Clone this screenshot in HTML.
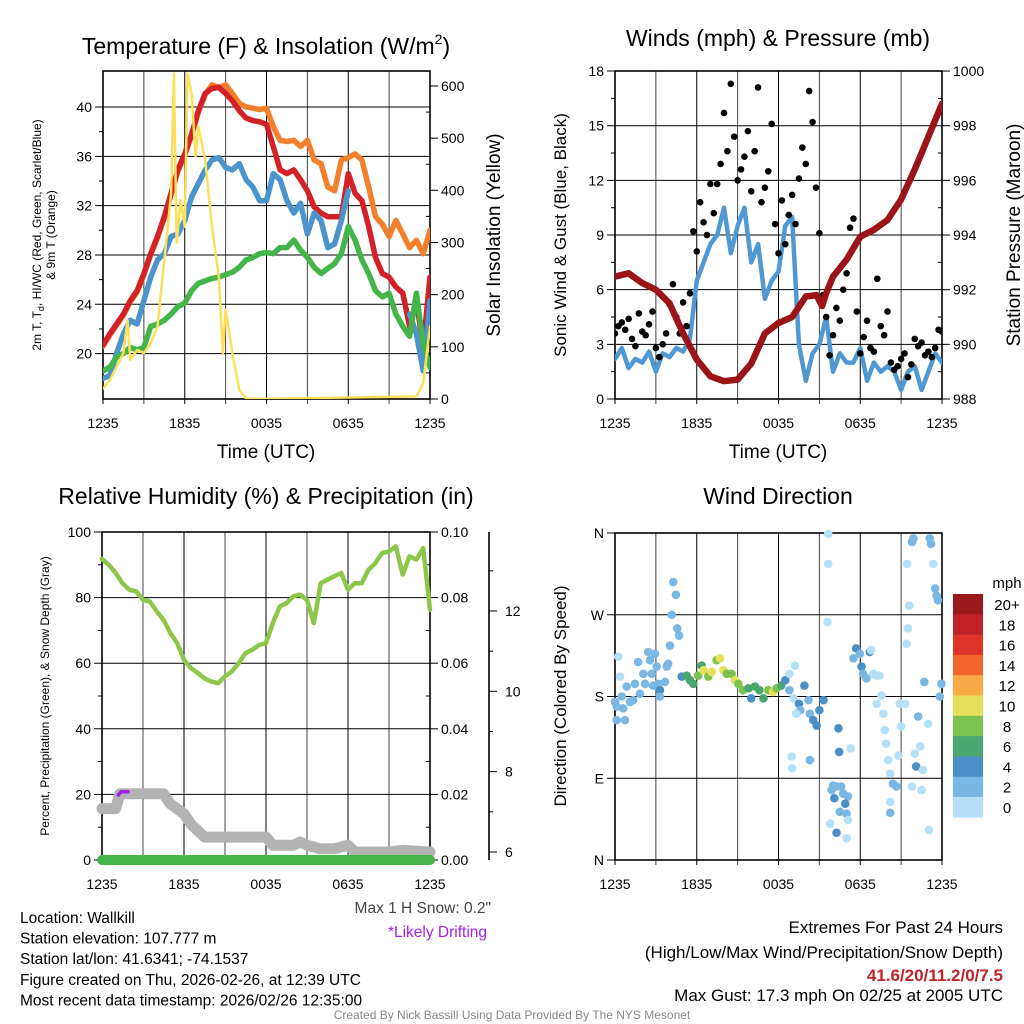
<!DOCTYPE html>
<html><head><meta charset="utf-8"><style>
body{margin:0;background:#fff;}
svg{display:block;font-family:"Liberation Sans",sans-serif;}
</style></head><body>
<svg id="c" width="1024" height="1024" viewBox="0 0 1024 1024" xmlns="http://www.w3.org/2000/svg"></svg>
<script>
// ---------- DATA ----------
const hours = [0,0.5,1,1.5,2,2.5,3,3.5,4,4.5,5,5.5,6,6.5,7,7.5,8,8.5,9,9.5,10,10.5,11,11.5,12,12.5,13,13.5,14,14.5,15,15.5,16,16.5,17,17.5,18,18.5,19,19.5,20,20.5,21,21.5,22,22.5,23,23.5,24];
const xTickLabels = ["1235","1835","0035","0635","1235"];
const xTickHours = [0,6,12,18,24];
const temp2m = [20.7,21.6,22.4,23.2,24.3,25.1,26.5,28.1,29.5,31.1,33.0,34.9,36.2,37.8,39.7,41.1,41.5,41.6,41.1,40.5,39.7,39.1,38.9,38.8,38.6,36.8,34.9,34.6,34.9,34.1,33.2,31.9,31.4,31.1,31.1,31.1,34.6,33.0,32.4,30.3,27.8,26.5,26.2,25.4,24.9,22.2,24.3,20.5,26.2];
const temp9m = [20.6,21.5,22.3,23.1,24.2,25.0,26.4,28.0,29.4,31.0,32.9,34.8,36.1,37.7,39.6,41.0,41.8,41.6,41.8,41.1,40.3,40.0,39.9,39.8,39.9,38.4,37.3,37.2,37.3,36.8,37.3,35.7,35.4,33.5,33.2,35.7,35.9,36.2,35.7,33.5,31.1,30.5,29.5,30.8,29.7,28.6,29.2,28.1,30.0];
const heatWindChill = [18.0,18.2,20.0,21.6,22.7,22.4,24.3,26.2,27.6,28.1,29.5,29.7,30.8,32.7,33.8,34.9,35.7,35.9,35.1,34.9,35.4,34.1,33.5,32.4,32.4,34.6,34.1,32.4,31.4,32.2,29.7,31.4,30.8,28.6,28.9,30.8,33.2,null,null,null,null,null,null,null,null,23.2,21.6,18.6,24.3];
const dewpoint = [18.6,18.9,19.7,20.0,20.5,20.3,20.5,22.2,22.4,22.7,23.2,23.8,24.1,25.1,25.7,25.9,26.1,26.2,26.4,26.6,27.0,27.6,27.8,28.1,28.2,28.1,28.6,28.6,29.2,28.4,27.8,27.0,26.5,26.9,27.3,28.1,30.3,29.2,27.6,26.5,25.1,24.6,24.9,23.2,22.2,21.4,24.9,20.8,18.9];
const solarHours = [0,0.5,1,1.5,1.8,2,2.5,3,3.5,4,4.5,5,5.2,5.4,5.7,6,6.2,6.5,6.8,7,7.5,8,8.5,8.8,9,9.5,10,10.5,11,23,23.5,24];
const solarWm2 = [20,36,62,88,151,75,94,88,107,139,266,394,624,300,381,330,624,586,465,522,458,330,234,88,171,88,17,1,0,5,30,139];
const tempTicks = [20,24,28,32,36,40];
const solarTicks = [0,100,200,300,400,500,600];

const windSpeed = [2.2,2.8,1.7,2.2,2.0,2.6,1.5,2.5,2.3,2.8,2.6,3.3,6.5,7.5,8.5,9.0,10.5,8.0,9.5,10.5,7.5,8.5,5.5,6.5,7.0,9.5,10.0,3.0,1.0,2.5,3.0,4.5,1.5,2.5,2.0,2.0,2.8,1.0,2.0,1.5,1.8,1.5,0.5,1.5,1.8,0.5,1.5,2.5,2.0];
const pressureHours = [0,1,2,3,4,5,6,7,8,9,10,11,12,13,14,14.8,15.2,15.5,16,17,18,19,20,21,22,23,24];
const pressureMb = [992.48,992.6,992.24,992.0,991.5,990.4,989.44,988.83,988.65,988.71,989.3,990.4,990.78,991.0,991.75,991.8,991.4,991.87,992.48,993.1,993.94,994.19,994.55,995.3,996.4,997.6,998.8];
const gustHours = [0,0.25,0.5,0.75,1,1.25,1.5,1.75,2,2.25,2.5,2.75,3,3.25,3.5,3.75,4,4.25,4.5,4.75,5,5.25,5.5,5.75,6,6.25,6.5,6.75,7,7.25,7.5,7.75,8,8.25,8.5,8.75,9,9.25,9.5,9.75,10,10.25,10.5,10.75,11,11.25,11.5,11.75,12,12.25,12.5,12.75,13,13.25,13.5,13.75,14,14.25,14.5,14.75,15,15.25,15.5,15.75,16,16.25,16.5,16.75,17,17.25,17.5,17.75,18,18.25,18.5,18.75,19,19.25,19.5,19.75,20,20.25,20.5,20.75,21,21.25,21.5,21.75,22,22.25,22.5,22.75,23,23.25,23.5,23.75,24];
const gustMph = [3.6,4.0,4.2,3.8,4.4,3.3,2.9,4.7,3.7,3.5,4.1,4.8,2.8,2.3,3.0,3.6,5.2,6.3,4.5,3.6,5.3,4.0,5.8,9.2,8.1,10.8,9.7,9.0,11.8,10.2,11.8,12.9,15.7,13.6,17.3,14.4,12.0,12.6,13.3,14.7,11.4,13.6,17.1,10.8,11.6,12.5,15.1,9.6,8.0,10.9,8.5,10.1,11.2,9.6,12.1,13.8,12.9,16.9,15.2,11.6,9.1,5.7,4.5,2.4,3.5,5.0,4.3,6.0,6.9,9.4,9.9,4.8,2.5,3.4,4.3,2.8,2.6,6.6,4.0,3.5,4.8,2.0,1.6,1.8,2.2,2.5,1.2,1.9,3.3,2.9,3.1,2.4,2.6,2.3,2.8,3.8,3.7];
const windTicks = [0,3,6,9,12,15,18];
const pressTicks = [988,990,992,994,996,998,1000];

const rhPercent = [91.8,90,87.5,84.4,82.4,81.9,79.3,78.8,75.8,73.2,69.2,66.1,61,58.5,57,55.4,54.4,53.9,56,57.5,60,63.1,64.1,65.6,66.1,72.2,77.3,78.3,80.4,80.9,79.3,72.2,84.4,85.5,86.5,87.5,82.4,84.4,84.4,88.5,90.5,93.6,94.1,95.6,87,92.6,91.6,95.1,76.3];
const precipHours = [0,24];
const precipIn = [0,0];
const snowHours = [0,1,1.3,2,3,4,4.5,5,6,6.5,7.5,8.5,10,12,12.5,14,14.5,15,16,17,18,18.5,19.5,21,22,24];
const snowIn = [7.08,7.08,7.45,7.45,7.45,7.45,7.45,7.2,6.95,6.7,6.37,6.37,6.37,6.37,6.17,6.17,6.25,6.17,6.08,6.08,6.17,6.0,6.0,6.0,6.04,6.0];
const driftHours = [1.2,1.4,1.9];
const driftIn = [7.42,7.5,7.5];
const rhTicks = [0,20,40,60,80,100];
const precipTicks = [0,0.02,0.04,0.06,0.08,0.10];
const snowTicks = [6,8,10,12];

const dirHours = [0.24,0.37,0.12,0,0.12,0.6,0.73,0.5,0.86,1.1,1.34,1.47,1.7,1.83,2.08,2.2,2.44,2.57,2.7,2.8,2.93,3.06,3.18,3.3,3.3,3.67,3.8,3.9,4.03,4.16,4.28,4.47,4.57,4.7,4.9,5.26,5.5,5.75,6.1,6.36,6.5,6.85,7.1,7.46,7.7,7.95,8.2,8.56,8.8,9.05,9.4,9.8,10.0,10.27,10.6,10.9,11.25,11.6,11.86,12.2,12.5,12.8,13.2,13.1,12.8,13.5,13.6,13.3,13.9,14.2,14.3,14.55,14.8,15.0,15.3,12.96,13.0,14.3,15.65,15.65,15.6,16.4,16.45,16.0,16.26,16.6,16.75,17.1,15.9,16.1,16.9,16.5,17.0,15.8,16.26,17.0,17.1,17.3,17.5,17.7,17.97,18.1,18.2,18.46,18.7,18.8,18.95,19.2,19.4,19.56,19.2,19.7,19.8,19.9,20.05,20.2,20.4,20.66,20.2,20.2,20.8,20.9,21.0,21.3,21.4,21.5,21.6,21.44,21.8,21.9,21.8,22.0,22.1,22.25,22.4,22.5,22.6,22.7,22.98,23.1,23.2,23.35,23.5,23.6,23.7,23.84,23.96,23.05];
const dirDeg = [224,202,169,174,154,167,154,180,191,174,176,194,218,183,205,194,229,220,205,192,227,213,194,187,180,196,213,216,236,270,306,292,255,247,202,203,198,194,203,214,209,202,207,220,222,209,205,205,198,194,187,189,178,191,187,178,187,185,189,192,198,205,214,178,187,172,165,161,192,176,161,154,148,165,176,114,101,110,359,326,262,145,119,82,81,81,73,70,77,68,62,53,51,40,30,24,44,123,222,233,227,213,205,200,229,231,205,203,203,181,172,161,143,128,110,95,84,81,64,52,115,172,147,172,238,255,280,326,350,354,81,117,103,158,125,77,99,196,150,354,348,326,299,291,286,180,194,33];
const dirSpeed = [1,1,3,3,3,3,3,3,3,3,3,3,3,3,3,3,3,3,3,3,3,3,3,5,3,3,3,3,3,3,3,3,3,3,5,7,7,7,9,7,11,9,11,9,11,11,9,9,11,9,9,7,5,7,7,7,9,11,9,7,5,1,1,1,3,5,3,1,5,3,3,5,5,5,5,1,1,3,1,1,1,5,5,3,3,3,3,3,3,5,5,3,3,1,5,1,1,1,3,5,3,5,3,3,5,1,1,1,1,1,1,1,1,1,1,1,3,3,1,3,1,1,1,1,1,1,1,1,3,3,1,1,5,3,1,1,1,3,1,3,3,1,3,3,3,3,3,1];
const dirTicks = [0,90,180,270,360];
const dirTickLabels = ["N","E","S","W","N"];
const colorbarLabels = ["20+","18","16","14","12","10","8","6","4","2","0"];
const colorbarColors = ["#99191d","#c0222b","#df3429","#f2652b","#f8a948","#e7e05a","#7bc24e","#49a66d","#4a8fc6","#7ab7e3","#b6e0f7"];

// ---------- HELPERS ----------
const NS = "http://www.w3.org/2000/svg";
const svg = document.getElementById("c");
function mk(tag, attrs, parent) {
  const e = document.createElementNS(NS, tag);
  for (const k in attrs) e.setAttribute(k, attrs[k]);
  (parent || svg).appendChild(e);
  return e;
}
function txt(s, x, y, size, anchor, fill, name, extra) {
  const t = mk("text", {x:x, y:y, "font-size":size, "text-anchor":anchor||"middle", fill:fill||"#000"});
  if (extra) for (const k in extra) t.setAttribute(k, extra[k]);
  t.textContent = s;
  
  
  return t;
}
function pathFrom(xs, ys, fx, fy) {
  let d = "", pen = false;
  for (let i = 0; i < xs.length; i++) {
    if (ys[i] === null) { pen = false; continue; }
    d += (pen ? "L" : "M") + fx(xs[i]).toFixed(1) + "," + fy(ys[i]).toFixed(1);
    pen = true;
  }
  return d;
}
function series(xs, ys, fx, fy, color, w, name, cap) {
  const p = mk("path", {d: pathFrom(xs, ys, fx, fy), fill:"none", stroke:color, "stroke-width":w, "stroke-linejoin":"round", "stroke-linecap":cap||"round"});
  
  
  return p;
}
function panelFrame(P, fyLeft, leftTicks, leftLabels, leftMinorStep, name) {
  const g = mk("g", {});
  
  
  for (let h = 0; h <= 24; h += 3) {
    const x = P.fx(h);
    mk("line", {x1:x, y1:P.y0, x2:x, y2:P.y1 + 5, stroke: (h % 6 === 0) ? "#000" : "#444", "stroke-width":1}, g);
  }
  leftTicks.forEach((v, i) => {
    const y = fyLeft(v);
    mk("line", {x1:P.x0 - 8, y1:y, x2:P.x1, y2:y, stroke:"#000", "stroke-width":1}, g);
    txt(leftLabels[i], P.x0 - 11, y + 5, 14, "end", "#000", name + '-y-tick-label');
  });
  if (leftMinorStep) {
    for (let v = leftTicks[0] + leftMinorStep; v < leftTicks[leftTicks.length-1]; v += leftMinorStep * 2) {
      const y = fyLeft(v);
      mk("line", {x1:P.x0 - 4, y1:y, x2:P.x0, y2:y, stroke:"#000", "stroke-width":1}, g);
    }
  }
  mk("rect", {x:P.x0, y:P.y0, width:P.x1 - P.x0, height:P.y1 - P.y0, fill:"none", stroke:"#000", "stroke-width":1.6}, g);
  xTickHours.forEach((h, i) => {
    txt(xTickLabels[i], P.fx(h), P.y1 + 29, 14, "middle", "#000", name + '-x-tick-label');
  });
}
function rightAxis(P, fy, ticks, labels, minorStep, name) {
  ticks.forEach((v, i) => {
    const y = fy(v);
    mk("line", {x1:P.x1, y1:y, x2:P.x1 + 8, y2:y, stroke:"#000", "stroke-width":1});
    txt(labels[i], P.x1 + 11, y + 5, 14, "start", "#000", name + '-right-tick-label');
  });
  if (minorStep) {
    for (let v = ticks[0] + minorStep; v < ticks[ticks.length-1]; v += minorStep * 2) {
      const y = fy(v);
      mk("line", {x1:P.x1 - 4, y1:y, x2:P.x1, y2:y, stroke:"#000", "stroke-width":1});
    }
  }
}
function mkPanel(x0, y0, x1, y1) {
  return {x0, y0, x1, y1, fx: h => x0 + h * (x1 - x0) / 24};
}

// ---------- PANEL 1: Temperature ----------
const P1 = mkPanel(103, 71, 430, 399);
const fT = t => 107 + (40 - t) * 12.33;
const fSol = w => 399 - w * 0.5217;
panelFrame(P1, fT, tempTicks, tempTicks.map(String), 2, 'temperature');
rightAxis(P1, fSol, solarTicks, solarTicks.map(String), 50, 'solar');
const clip1 = mk("clipPath", {id:"cp1"}); mk("rect", {x:P1.x0, y:P1.y0, width:P1.x1-P1.x0, height:P1.y1-P1.y0}, clip1);
const g1 = mk("g", {"clip-path":"url(#cp1)"});


g1.appendChild(series(hours, temp9m, P1.fx, fT, "#f4802e", 5.5, 'temp-9m-line'));
g1.appendChild(series(hours, temp2m, P1.fx, fT, "#d42027", 5.5, 'temp-2m-line'));
g1.appendChild(series(hours, heatWindChill, P1.fx, fT, "#4b94cc", 5.5, 'heat-index-windchill-line'));
g1.appendChild(series(hours, dewpoint, P1.fx, fT, "#43b549", 5.5, 'dewpoint-line'));
g1.appendChild(series(solarHours, solarWm2, P1.fx, fSol, "#fbe05a", 2.5, 'solar-insolation-line'));
(function(){
  const t = mk("text", {x:266, y:54, "font-size":23, "text-anchor":"middle"});
  
  
  t.innerHTML = 'Temperature (F) &amp; Insolation (W/m<tspan font-size="14" dy="-10">2</tspan><tspan dy="10">)</tspan>';
})();
txt("Time (UTC)", 266, 458, 19, "middle", "#000", 'temperature-x-axis-title');
(function(){
  const t = mk("text", {x:0, y:0, "font-size":12, "text-anchor":"middle", transform:"translate(41,235) rotate(-90)"});
  
  
  t.innerHTML = '2m T, T<tspan font-size="9" dy="3">d</tspan><tspan dy="-3">, HI/WC (Red, Green, Scarlet/Blue)</tspan>';
})();
txt("& 9m T (Orange)", 0, 0, 12, "middle", "#000", 'temperature-y-axis-title-line2', {transform:"translate(55,235) rotate(-90)"});
txt("Solar Insolation (Yellow)", 0, 0, 19, "middle", "#000", 'solar-y-axis-title', {transform:"translate(500,235) rotate(-90)"});

// ---------- PANEL 2: Winds ----------
const P2 = mkPanel(615, 71, 942, 399);
const fW = v => 399 - v * 18.22;
const fP = p => 399 - (p - 988) * 27.33;
panelFrame(P2, fW, windTicks, windTicks.map(String), 1.5, 'wind');
rightAxis(P2, fP, pressTicks, pressTicks.map(String), 1, 'pressure');
const clip2 = mk("clipPath", {id:"cp2"}); mk("rect", {x:P2.x0, y:P2.y0, width:P2.x1-P2.x0, height:P2.y1-P2.y0+3}, clip2);
const g2 = mk("g", {"clip-path":"url(#cp2)"});


g2.appendChild(series(hours, windSpeed, P2.fx, fW, "#5098d2", 4.5, 'sonic-wind-line'));
gustHours.forEach((h, i) => {
  const c = mk("circle", {cx:P2.fx(h), cy:fW(gustMph[i]), r:3.3, fill:"#000"}, g2);
  
  
});
g2.appendChild(series(pressureHours, pressureMb, P2.fx, fP, "#9b1518", 6.5, 'pressure-line'));
txt("Winds (mph) & Pressure (mb)", 778, 46, 23, "middle", "#000", 'wind-panel-title');
txt("Time (UTC)", 778, 458, 19, "middle", "#000", 'wind-x-axis-title');
txt("Sonic Wind & Gust (Blue, Black)", 0, 0, 17, "middle", "#000", 'wind-y-axis-title', {transform:"translate(566,235) rotate(-90)"});
txt("Station Pressure (Maroon)", 0, 0, 19, "middle", "#000", 'pressure-y-axis-title', {transform:"translate(1020,235) rotate(-90)"});

// ---------- PANEL 3: RH ----------
const P3 = mkPanel(102, 532, 430, 860);
const fRH = r => 860 - r * 3.28;
const fPr = p => 860 - p * 3280;
const fSn = s => 852 - (s - 6) * 40.17;
panelFrame(P3, fRH, rhTicks, rhTicks.map(String), 10, 'humidity');
rightAxis(P3, fPr, precipTicks, precipTicks.map(v => v.toFixed(2)), 0.01, 'precip');
(function(){
  const g = mk("g", {});
  
  
  mk("line", {x1:489, y1:532, x2:489, y2:860, stroke:"#000", "stroke-width":1.6}, g);
  for (let s = 6; s <= 14; s += 1) {
    const y = fSn(s); if (y < 532) break;
    mk("line", {x1:489, y1:y, x2:(s % 2 === 0) ? 497 : 493, y2:y, stroke:"#000", "stroke-width":1}, g);
  }
  snowTicks.forEach(s => { txt(String(s), 505, fSn(s) + 5, 14, "start", "#000", 'snow-tick-label'); });
})();
const clip3 = mk("clipPath", {id:"cp3"}); mk("rect", {x:P3.x0 - 8, y:P3.y0, width:P3.x1-P3.x0+16, height:P3.y1-P3.y0+10}, clip3);
const g3 = mk("g", {"clip-path":"url(#cp3)"});


g3.appendChild(series(snowHours, snowIn, P3.fx, fSn, "#b3b3b3", 11, 'snow-depth-line'));
g3.appendChild(series(driftHours, driftIn, P3.fx, fSn, "#a020f0", 3.5, 'drifting-snow-line'));
g3.appendChild(series(precipHours, precipIn, P3.fx, fPr, "#43b549", 10, 'precipitation-line'));
g3.appendChild(series(hours, rhPercent, P3.fx, fRH, "#8dc74a", 4.5, 'relative-humidity-line'));
txt("Relative Humidity (%) & Precipitation (in)", 266, 504, 23, "middle", "#000", 'humidity-panel-title');
txt("Percent, Precipitation (Green), & Snow Depth (Gray)", 0, 0, 12, "middle", "#000", 'humidity-y-axis-title', {transform:"translate(49,696) rotate(-90)"});

// ---------- PANEL 4: Wind direction ----------
const P4 = mkPanel(615, 533, 942, 860);
const fD = d => 860 - d * 0.9083;
panelFrame(P4, fD, dirTicks, dirTickLabels, null, 'direction');
const g4 = mk("g", {});


dirHours.forEach((h, i) => {
  const bin = Math.min(Math.floor(dirSpeed[i] / 2), 10);
  const c = mk("circle", {cx:P4.fx(h), cy:fD(dirDeg[i]), r:4.3, fill:colorbarColors[10 - bin]}, g4);
  
  
});
txt("Wind Direction", 778, 504, 23, "middle", "#000", 'direction-panel-title');
txt("Direction (Colored By Speed)", 0, 0, 17, "middle", "#000", 'direction-y-axis-title', {transform:"translate(566,696) rotate(-90)"});
(function(){
  const g = mk("g", {});
  
  
  colorbarLabels.forEach((lab, i) => {
    const y = 594 + i * 20.3;
    const r = mk("rect", {x:953, y:y, width:30, height:20.6, fill:colorbarColors[i]}, g);
    
    
    txt(lab, 1007, y + 16, 15, "middle", "#000", 'colorbar-label');
  });
  txt("mph", 1007, 588, 15, "middle", "#000", 'colorbar-title');
})();

// ---------- FOOTER TEXT ----------
const info = ["Location: Wallkill","Station elevation: 107.777 m","Station lat/lon: 41.6341; -74.1537","Figure created on Thu, 2026-02-26, at 12:39 UTC","Most recent data timestamp: 2026/02/26 12:35:00"];
info.forEach((s, i) => txt(s, 20, 923 + i * 20.6, 15.5, "start", "#000", 'station-info-line'));
txt("Max 1 H Snow: 0.2\"", 491, 913, 15.5, "end", "#444", 'max-snow-note');
txt("*Likely Drifting", 487, 937, 15.5, "end", "#a020f0", 'drifting-note');
txt("Extremes For Past 24 Hours", 1003, 933, 17, "end", "#000", 'extremes-title');
txt("(High/Low/Max Wind/Precipitation/Snow Depth)", 1003, 958, 17, "end", "#000", 'extremes-legend');
txt("41.6/20/11.2/0/7.5", 1003, 981, 17, "end", "#c0222b", 'extremes-values', {"font-weight":"bold"});
txt("Max Gust: 17.3 mph On 02/25 at 2005 UTC", 1003, 1001, 17, "end", "#000", 'max-gust-note');
txt("Created By Nick Bassill Using Data Provided By The NYS Mesonet", 512, 1019, 12, "middle", "#888", 'credit-footer');
</script>
</body></html>
